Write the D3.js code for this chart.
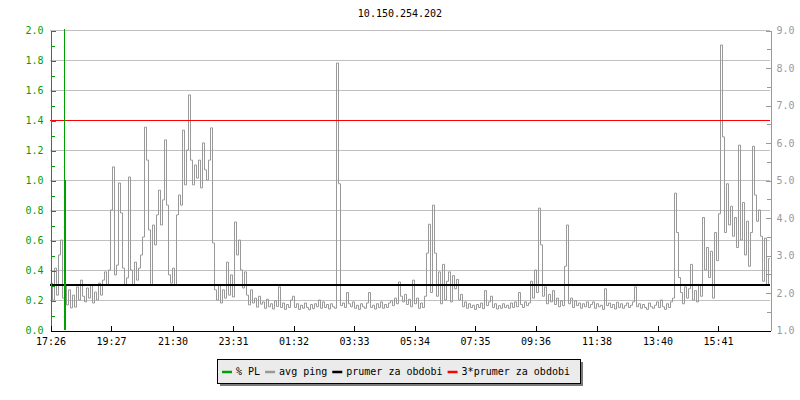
<!DOCTYPE html>
<html>
<head>
<meta charset="utf-8">
<script src="https://cdn.jsdelivr.net/npm/d3@7"></script>
<style>
  html, body { margin: 0; padding: 0; background: #fff; }
  svg { display: block; }
  text { font-family: "DejaVu Sans Mono", monospace; font-size: 10px; }
</style>
</head>
<body>
<svg id="chart" width="800" height="400"></svg>
<script>
// ---- data ----
const title = "10.150.254.202";
const stepMinutes = 4; // one avg ping sample every 4 minutes, starting 17:26
const avgPing = [
  2.25,1.8,2.65,1.93,3.0,3.4,1.85,2.2,1.67,2.07,1.59,1.93,1.61,2.15,1.8,2.33,1.9,1.75,2.12,1.85,
  2.2,1.72,2.01,1.8,2.25,1.93,2.33,2.55,2.2,2.6,4.2,5.35,2.47,2.73,4.92,4.12,2.65,2.2,2.39,5.08,
  2.6,2.2,2.81,2.33,2.65,3.0,3.48,6.41,5.53,3.67,2.2,3.8,3.27,4.07,4.73,3.8,4.47,6.07,4.33,2.47,
  2.25,2.65,2.2,4.07,4.6,4.33,6.33,4.87,5.8,7.27,5.53,4.87,5.4,5.05,5.53,4.79,5.99,5.27,5.0,5.53,
  6.39,3.32,2.07,1.8,2.2,1.72,2.07,1.85,2.81,1.93,2.47,1.88,3.88,3.0,3.4,2.6,2.12,2.55,1.93,1.67,
  2.07,1.72,1.85,1.61,1.9,1.69,1.75,1.58,1.82,1.62,1.7,1.56,1.78,1.63,2.15,1.6,1.72,1.55,1.68,1.6,
  1.8,1.9,1.6,1.7,1.55,1.66,1.58,1.72,1.6,1.54,1.68,1.57,1.7,1.62,1.8,1.58,1.75,1.6,1.68,1.56,
  1.7,1.62,1.58,8.12,4.9,1.65,1.72,1.6,2.0,1.7,1.62,1.75,1.58,1.66,1.55,1.7,1.62,1.58,1.72,2.0,
  1.6,1.66,1.56,1.7,1.6,1.75,1.58,1.68,1.6,1.72,1.78,1.65,1.85,1.7,2.28,1.9,1.75,1.95,1.68,1.82,
  1.62,2.33,1.7,1.85,1.58,1.72,1.6,1.9,3.05,3.82,2.0,4.33,3.05,1.9,2.55,1.7,2.75,1.8,2.3,2.55,
  1.75,2.45,2.1,2.35,1.8,1.95,1.62,1.75,1.58,1.7,1.6,1.66,1.55,1.68,1.6,1.72,1.57,2.05,1.65,1.75,
  1.9,1.6,1.7,1.56,1.65,1.58,1.7,1.6,1.66,1.58,1.72,1.6,1.75,1.62,2.0,1.68,1.6,1.75,1.65,1.72,
  2.3,1.85,2.6,2.0,4.25,3.27,1.9,2.15,1.7,1.95,1.75,2.05,1.68,1.85,1.62,1.78,1.65,2.7,3.8,1.7,
  1.85,1.6,1.78,1.65,1.72,1.58,1.7,1.62,1.75,1.6,1.68,1.75,1.58,1.7,1.62,1.66,1.55,2.1,1.65,1.72,
  1.6,1.68,1.56,1.74,1.6,1.7,1.58,1.65,1.72,1.6,1.66,1.75,2.15,1.62,1.7,1.58,1.68,1.6,1.55,1.72,
  1.62,1.58,1.66,1.75,1.6,1.8,1.62,1.55,1.7,1.6,1.75,1.85,4.65,3.6,2.4,2.0,1.7,2.15,1.85,2.1,
  2.75,1.8,2.05,1.75,2.2,1.9,4.0,2.6,3.2,2.4,3.1,1.85,3.6,2.85,4.1,8.6,6.15,3.6,4.9,3.8,
  4.3,3.5,4.0,3.2,5.93,3.4,4.4,3.0,3.9,2.7,3.6,5.9,4.6,3.9,4.2,3.5,2.3,3.45,2.2,2.9,
  2.25
];
const plMinutes = [0, 28, 29, 30, 1440];   // % packet loss samples (minutes after 17:26)
const plValues  = [0, 2.5, 1.0, 0, 0];
const meanPing = 2.2;                       // prumer za obdobi
const tickMinutes = [0,121,244,365,486,607,728,849,970,1092,1214,1335];
const tickLabels  = ["17:26","19:27","21:30","23:31","01:32","03:33","05:34","07:35","09:36","11:38","13:40","15:41"];
const legendLabels = ["% PL","avg ping","prumer za obdobi","3*prumer za obdobi"];
const legendColors = ["#00a000","#999999","#000000","#ff0000"];

// ---- layout ----
const svg = d3.select("#chart");
const L = 50, R = 770, T = 30, B = 330;
const x  = d3.scaleLinear().domain([0, 1440]).range([L, R]);
const yL = d3.scaleLinear().domain([0, 2]).range([B, T]);
const yR = d3.scaleLinear().domain([1, 9]).range([B, T]);
const green = "#00a000", gray = "#999999";

svg.append("defs").append("clipPath").attr("id","plot")
  .append("rect").attr("x", L).attr("y", T - 1).attr("width", R - L).attr("height", B - T + 1);

// title
svg.append("text").attr("x", 400).attr("y", 17).attr("text-anchor","middle")
  .attr("fill","#000").text(title);

// gridlines (left axis majors)
svg.append("g").selectAll("line").data(d3.range(0.2, 2.01, 0.2))
  .join("line")
  .attr("x1", L).attr("x2", R)
  .attr("y1", d => Math.round(yL(d)) + 0.5).attr("y2", d => Math.round(yL(d)) + 0.5)
  .attr("stroke", "#c0c0c0").attr("stroke-width", 1);

// avg ping series
const pingData = avgPing.map((v, i) => [i * stepMinutes, v]);
svg.append("path").datum(pingData)
  .attr("clip-path","url(#plot)")
  .attr("fill","none").attr("stroke", gray).attr("stroke-width", 1)
  .attr("d", d3.line().x(d => Math.round(x(d[0])) + 0.5).y(d => yR(d[1])).curve(d3.curveStepAfter));

// mean and 3*mean lines
svg.append("line").attr("x1", L).attr("x2", R)
  .attr("y1", yR(meanPing)).attr("y2", yR(meanPing))
  .attr("stroke","#000").attr("stroke-width", 2);
svg.append("line").attr("x1", L).attr("x2", R)
  .attr("y1", Math.round(yR(3 * meanPing)) + 0.5).attr("y2", Math.round(yR(3 * meanPing)) + 0.5)
  .attr("stroke","#ff0000").attr("stroke-width", 1);

// % PL series
const plData = plMinutes.map((m, i) => [m, plValues[i]]);
svg.append("path").datum(plData)
  .attr("clip-path","url(#plot)")
  .attr("fill","none").attr("stroke", green).attr("stroke-width", 1)
  .attr("shape-rendering","crispEdges")
  .attr("d", d3.line().x(d => Math.floor(x(d[0])) + 0.5).y(d => yL(d[1])).curve(d3.curveStepAfter));

// left axis (green)
const gL = svg.append("g").attr("transform", `translate(${L + 0.5},0.5)`);
gL.call(d3.axisLeft(yL).tickValues(d3.range(0, 2.01, 0.2)).tickFormat(d3.format(".1f"))
  .tickSizeInner(-5).tickSizeOuter(0).tickPadding(7));
const gL2 = svg.append("g").attr("transform", `translate(${L + 0.5},0.5)`);
gL2.call(d3.axisLeft(yL).tickValues(d3.range(0.1, 2, 0.2)).tickFormat("").tickSizeInner(-4).tickSizeOuter(0));
gL2.select(".domain").remove();
gL.selectAll("text").attr("fill", green).style("font-family","DejaVu Sans Mono").style("font-size","10px");
gL.selectAll("line, path").attr("stroke", green);
gL2.selectAll("line").attr("stroke", green);

// right axis (gray)
const gR = svg.append("g").attr("transform", `translate(${R + 0.5},0.5)`);
gR.call(d3.axisRight(yR).tickValues(d3.range(1, 9.01, 1)).tickFormat(d3.format(".1f"))
  .tickSizeInner(-5).tickSizeOuter(0).tickPadding(6));
const gR2 = svg.append("g").attr("transform", `translate(${R + 0.5},0.5)`);
gR2.call(d3.axisRight(yR).tickValues(d3.range(1.5, 9, 1)).tickFormat("").tickSizeInner(-4).tickSizeOuter(0));
gR2.select(".domain").remove();
gR.selectAll("text").attr("fill", gray).style("font-family","DejaVu Sans Mono").style("font-size","10px");
gR.selectAll("line, path").attr("stroke", gray);
gR2.selectAll("line").attr("stroke", gray);

// bottom axis (black)
const gB = svg.append("g").attr("transform", `translate(0.5,${B + 0.5})`);
gB.call(d3.axisBottom(x).tickValues(tickMinutes).tickFormat((d, i) => tickLabels[i])
  .tickSizeInner(-5).tickSizeOuter(0).tickPadding(7));
gB.selectAll("text").attr("fill","#000").style("font-family","DejaVu Sans Mono").style("font-size","10px");
gB.selectAll("line, path").attr("stroke", "#000");
svg.selectAll("g path.domain, g .tick line").attr("shape-rendering","crispEdges");

// legend
const lg = svg.append("g");
const lx = 217, ly = 359, lw = 363, lh = 24;
lg.append("rect").attr("x", lx + 3).attr("y", ly + 3).attr("width", lw).attr("height", lh).attr("fill", "#7a7a7a");
lg.append("rect").attr("x", lx + 0.5).attr("y", ly + 0.5).attr("width", lw).attr("height", lh)
  .attr("fill", "#ebebeb").attr("stroke", "#000").attr("stroke-width", 1);
let cx = lx + 5;
legendLabels.forEach((lab, i) => {
  lg.append("line").attr("x1", cx).attr("x2", cx + 10).attr("y1", ly + 13).attr("y2", ly + 13)
    .attr("stroke", legendColors[i]).attr("stroke-width", 2.5);
  const t = lg.append("text").attr("x", cx + 14).attr("y", ly + 16).attr("fill", "#000").text(lab);
  cx += 14 + t.node().getComputedTextLength() + 5;
});
</script>
</body>
</html>
